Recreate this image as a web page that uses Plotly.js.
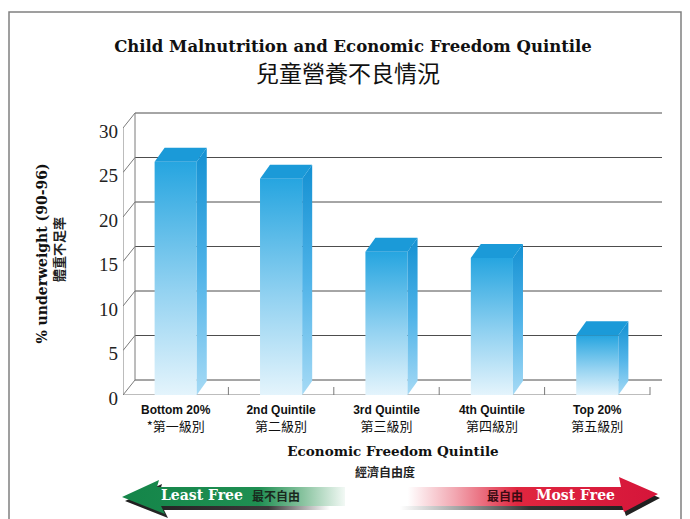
<!DOCTYPE html>
<html><head><meta charset="utf-8">
<script src="https://cdn.plot.ly/plotly-3.0.1.min.js"></script>
<style>html,body{margin:0;padding:0;background:#fff}</style>
</head><body><div id="chart" style="width:690px;height:519px"></div>
<script>
// ---------- data ----------
const categories = ['Bottom 20%', '2nd Quintile', '3rd Quintile', '4th Quintile', 'Top 20%'];
const categoriesZh = ['*第一級別', '第二級別', '第三級別', '第四級別', '第五級別'];
const values = [26.2, 24.3, 16.1, 15.4, 6.7];
const yTickValues = [0, 5, 10, 15, 20, 25, 30];
const yTickLabels = ['0', '5', '10', '15', '20', '25', '30'];

// ---------- geometry (styling) ----------
const W = 690, H = 519;
const PL = 123, PR = 663, PT = 112, PB = 395;
const X0 = -0.5, XPX = 105.4, YPX = 8.9;
const xMax = X0 + (PR - PL) / XPX;
const yMax = (PB - PT) / YPX;
const DX = 12 / XPX, DY = 15 / YPX;      // wall depth
const BW = 0.4, BDX = 10 / XPX, BDY = 14 / YPX; // bar width / depth
const nCat = categories.length;
const xEnd = X0 + nCat;

const serif = 'Liberation Serif, Times New Roman, serif';
const wideSerif = 'DejaVu Serif, Liberation Serif, serif';
const sans = 'Liberation Sans, Arial, sans-serif';
const cjk = 'Noto Sans CJK TC, Noto Sans CJK SC, sans-serif';

const traces = [];
const shapes = [];
const annotations = [];

// ---------- walls & grid ----------
const gridCol = '#4d4d4d', wallCol = '#7a7a7a';
yTickValues.forEach(v => {
  shapes.push({type: 'line', xref: 'x', yref: 'y', layer: 'below', x0: X0 + DX, x1: xEnd + DX, y0: v + DY, y1: v + DY, line: {color: gridCol, width: 1}});
  shapes.push({type: 'line', xref: 'x', yref: 'y', layer: 'below', x0: X0, x1: X0 + DX, y0: v, y1: v + DY, line: {color: wallCol, width: 1}});
});
const yTop = yTickValues[yTickValues.length - 1];
shapes.push({type: 'line', xref: 'x', yref: 'y', layer: 'below', x0: X0, x1: X0, y0: 0, y1: yTop, line: {color: wallCol, width: 1}});
shapes.push({type: 'line', xref: 'x', yref: 'y', layer: 'below', x0: X0 + DX, x1: X0 + DX, y0: DY, y1: yTop + DY, line: {color: wallCol, width: 1}});
shapes.push({type: 'line', xref: 'x', yref: 'y', layer: 'below', x0: X0, x1: xEnd, y0: 0, y1: 0, line: {color: wallCol, width: 1}});
for (let i = 1; i <= nCat; i++) {
  shapes.push({type: 'line', xref: 'x', yref: 'y', layer: 'below', x0: X0 + i, x1: X0 + i, y0: 0, y1: 0.9, line: {color: wallCol, width: 1}});
}

// ---------- 3D bars ----------
values.forEach((v, i) => {
  const L = i - BW / 2, R = i + BW / 2;
  traces.push({type: 'scatter', mode: 'lines', x: [L, R, R, L, L], y: [0, 0, v, v, 0],
    fill: 'toself', line: {width: 0}, hoverinfo: 'skip', showlegend: false,
    fillgradient: {type: 'vertical', start: 0, stop: v, colorscale: [[0, '#e4f4fc'], [0.45, '#93d2f1'], [1, '#26a5e0']]}});
  traces.push({type: 'scatter', mode: 'lines', x: [R, R + BDX, R + BDX, R, R], y: [0, BDY, v + BDY, v, 0],
    fill: 'toself', line: {width: 0}, hoverinfo: 'skip', showlegend: false,
    fillgradient: {type: 'vertical', start: 0, stop: v + BDY, colorscale: [[0, '#a6daf5'], [0.5, '#4fb3e8'], [1, '#1390d2']]}});
  traces.push({type: 'scatter', mode: 'lines', x: [L, R, R + BDX, L + BDX, L], y: [v, v, v + BDY, v + BDY, v],
    fill: 'toself', fillcolor: '#1b9ad8', line: {width: 0}, hoverinfo: 'skip', showlegend: false});
});

// ---------- frame & arrow (pixel overlay axes) ----------
shapes.push({type: 'rect', xref: 'x2', yref: 'y2', layer: 'below', x0: 9, x1: 681, y0: 12, y1: 540, line: {color: '#808080', width: 1.5}});

const leftArrowX = [122, 159, 157, 350, 350, 161, 165, 122];
const leftArrowY = [497, 480, 487, 487, 506, 506, 514, 497];
const rightArrowX = [345, 621, 619, 658, 624, 622, 345, 345];
const rightArrowY = [487, 487, 477, 494, 512, 506, 506, 487];

// shadows
traces.push({type: 'scatter', mode: 'lines', xaxis: 'x2', yaxis: 'y2', x: leftArrowX.map(v => v + 3), y: leftArrowY.map(v => v + 4),
  fill: 'toself', line: {width: 0}, hoverinfo: 'skip', showlegend: false,
  fillgradient: {type: 'horizontal', start: 125, stop: 330, colorscale: [[0, '#1e1e1e'], [0.7, '#3a3a3a'], [1, '#ffffff']]}});
traces.push({type: 'scatter', mode: 'lines', xaxis: 'x2', yaxis: 'y2', x: rightArrowX.map(v => v + 2), y: rightArrowY.map(v => v + 4),
  fill: 'toself', line: {width: 0}, hoverinfo: 'skip', showlegend: false,
  fillgradient: {type: 'horizontal', start: 400, stop: 660, colorscale: [[0, '#ffffff'], [0.25, '#9a9a9a'], [0.5, '#333333'], [1, '#1e1e1e']]}});
// arrow halves
traces.push({type: 'scatter', mode: 'lines', xaxis: 'x2', yaxis: 'y2', x: leftArrowX, y: leftArrowY,
  fill: 'toself', line: {width: 0}, hoverinfo: 'skip', showlegend: false,
  fillgradient: {type: 'horizontal', start: 122, stop: 350, colorscale: [[0, '#148549'], [0.6, '#1f8f52'], [0.8, '#8cc5a2'], [1, '#ffffff']]}});
traces.push({type: 'scatter', mode: 'lines', xaxis: 'x2', yaxis: 'y2', x: rightArrowX, y: rightArrowY,
  fill: 'toself', line: {width: 0}, hoverinfo: 'skip', showlegend: false,
  fillgradient: {type: 'horizontal', start: 345, stop: 658, colorscale: [[0, '#ffffff'], [0.2, '#ffffff'], [0.35, '#f2a8b2'], [0.55, '#e0263f'], [1, '#d5153a']]}});

annotations.push({xref: 'x2', yref: 'y2', x: 202, y: 495, text: '<b>Least Free</b>', showarrow: false, font: {family: wideSerif, size: 14, color: '#ffffff'}});
annotations.push({xref: 'x2', yref: 'y2', x: 276, y: 495, text: '<b>最不自由</b>', showarrow: false, font: {family: cjk, size: 12, color: '#1a2a1e'}});
annotations.push({xref: 'x2', yref: 'y2', x: 505, y: 495, text: '<b>最自由</b>', showarrow: false, font: {family: cjk, size: 12, color: '#3a0b12'}});
annotations.push({xref: 'x2', yref: 'y2', x: 575, y: 495, text: '<b>Most Free</b>', showarrow: false, font: {family: wideSerif, size: 14, color: '#ffffff'}});

// ---------- text ----------
annotations.push({xref: 'x2', yref: 'y2', x: 348, y: 72, text: '兒童營養不良情況', showarrow: false, font: {family: cjk, size: 23, color: '#111111'}});
annotations.push({xref: 'x2', yref: 'y2', x: 58, y: 250, text: '<b>體重不足率</b>', textangle: -90, showarrow: false, font: {family: cjk, size: 13, color: '#222222'}});
annotations.push({xref: 'x2', yref: 'y2', x: 385, y: 471, text: '<b>經濟自由度</b>', showarrow: false, font: {family: cjk, size: 12, color: '#222222'}});

const tickText = categories.map((c, i) => '<span style="font-size:12px"><b>' + c + '</b></span><br><span style="font-family:Noto Sans CJK TC">' + categoriesZh[i] + '</span>');

const layout = {
  width: W, height: H,
  margin: {l: 0, r: 0, t: 0, b: 0},
  paper_bgcolor: '#ffffff', plot_bgcolor: 'rgba(0,0,0,0)',
  showlegend: false,
  title: {text: '<b>Child Malnutrition and Economic Freedom Quintile</b>', x: 353 / W, xanchor: 'center', y: 1 - 46 / H, yanchor: 'middle',
    font: {family: wideSerif, size: 16.5, color: '#111111'}},
  xaxis: {domain: [PL / W, PR / W], range: [X0, xMax], tickvals: categories.map((c, i) => i), ticktext: tickText,
    showgrid: false, zeroline: false, showline: false, ticks: '', ticklabelstandoff: 5,
    tickfont: {family: sans, size: 13, color: '#111111'}, fixedrange: true,
    title: {text: '<b>Economic Freedom Quintile</b>', standoff: 12, font: {family: wideSerif, size: 13.5, color: '#111111'}}},
  yaxis: {domain: [1 - PB / H, 1 - PT / H], range: [0, yMax], tickvals: yTickValues, ticktext: yTickLabels,
    showgrid: false, zeroline: false, showline: false, ticks: '', ticklabelstandoff: 4, ticklabelshift: 3,
    tickfont: {family: serif, size: 19, color: '#222222'}, fixedrange: true,
    title: {text: '<b>% underweight (90-96)</b>', standoff: 48, font: {family: wideSerif, size: 14, color: '#111111'}}},
  xaxis2: {domain: [0, 1], range: [0, W], visible: false, anchor: 'y2', fixedrange: true},
  yaxis2: {domain: [0, 1], range: [H, 0], visible: false, anchor: 'x2', fixedrange: true},
  shapes: shapes,
  annotations: annotations
};

Plotly.newPlot('chart', traces, layout, {displayModeBar: false, staticPlot: true});
</script>
</body></html>
